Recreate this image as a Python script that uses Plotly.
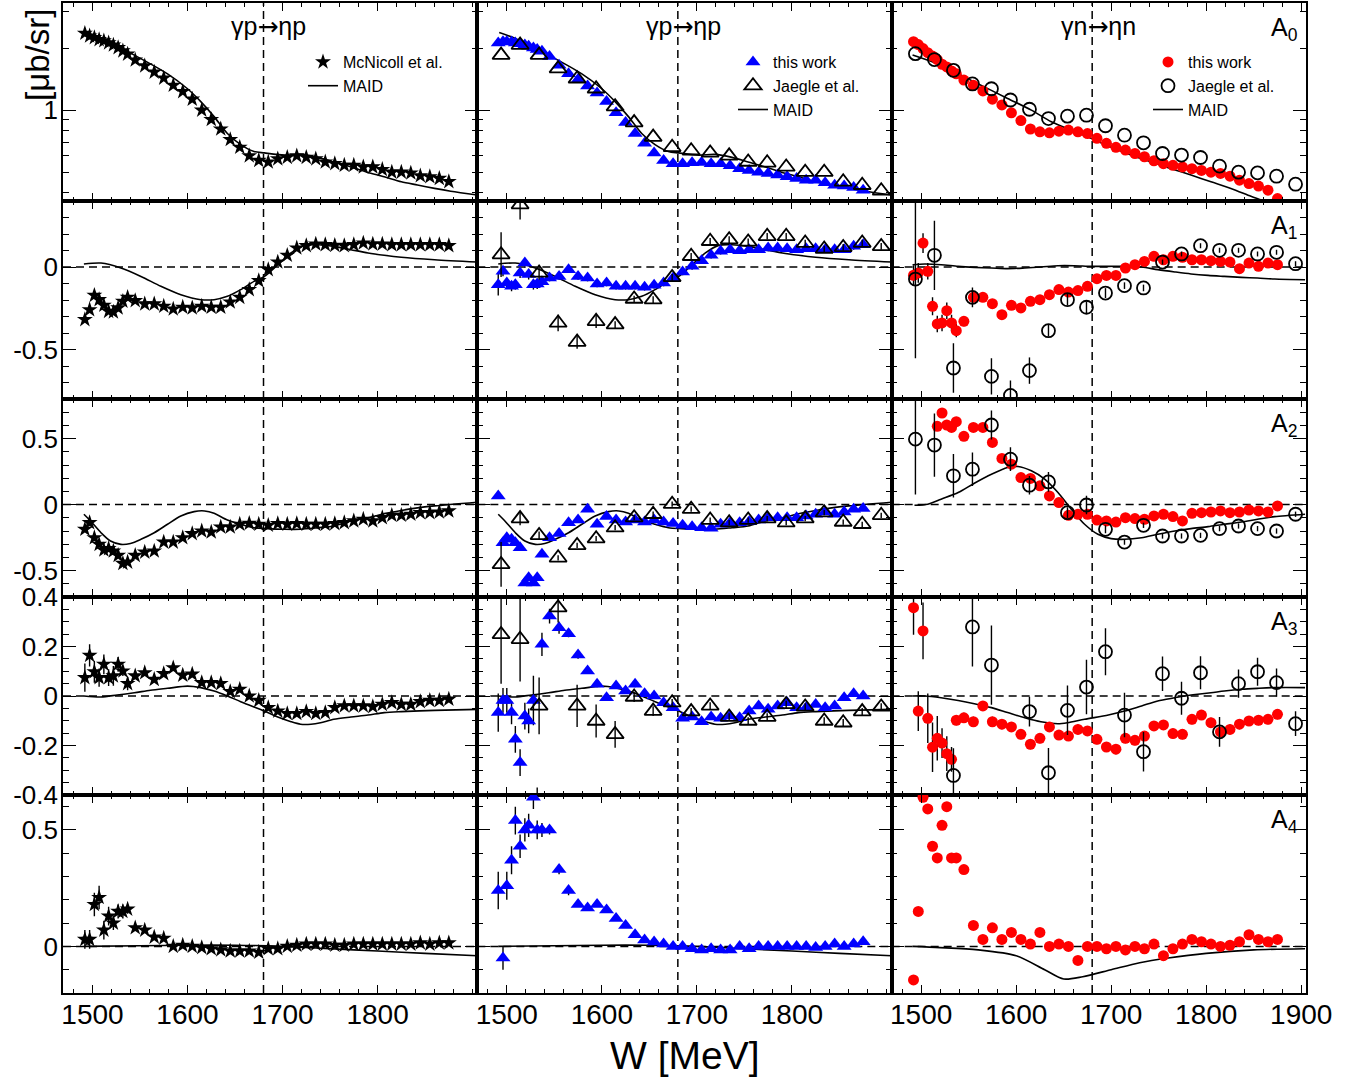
import plotly.graph_objects as go
from plotly.subplots import make_subplots

# ---------------- data ----------------
W_MCN = [1492, 1497, 1502, 1507, 1512, 1517, 1522, 1527, 1532, 1537,
         1545, 1555, 1565, 1575, 1585, 1595, 1605, 1615, 1625, 1635,
         1645, 1655, 1665, 1675, 1685, 1695, 1705, 1715, 1725, 1735,
         1745, 1755, 1765, 1775, 1785, 1795, 1805, 1815, 1825, 1835,
         1845, 1855, 1865, 1875]
W_P = [1491, 1496, 1500, 1505, 1509, 1514, 1519, 1523, 1528, 1532, 1537,
       1545, 1555, 1565, 1575, 1585, 1595, 1605, 1615, 1625, 1635,
       1645, 1655, 1665, 1675, 1685, 1695, 1705, 1715, 1725, 1735,
       1745, 1755, 1765, 1775, 1785, 1795, 1805, 1815, 1825, 1835,
       1845, 1855, 1865, 1875]
W_N = W_MCN
W_JAE = [1494, 1514, 1534, 1554, 1574, 1594, 1614, 1634, 1654, 1674, 1694,
         1714, 1734, 1754, 1774, 1794, 1814, 1834, 1854, 1874, 1894]

# A0
MCN_A0 = [2.36, 2.29, 2.25, 2.20, 2.17, 2.12, 2.07, 2.01, 1.94, 1.87,
          1.75, 1.64, 1.53, 1.43, 1.32, 1.23, 1.13, 1.00, 0.90, 0.81,
          0.72, 0.66, 0.60, 0.57, 0.56, 0.58, 0.59, 0.60, 0.59, 0.58,
          0.56, 0.55, 0.54, 0.54, 0.53, 0.53, 0.515, 0.50, 0.50, 0.495,
          0.48, 0.475, 0.466, 0.45]
P_A0 = [2.12, 2.15, 2.15, 2.14, 2.12, 2.10, 2.07, 2.04, 2.00, 1.97, 1.93,
        1.82, 1.65, 1.50, 1.41, 1.31, 1.21, 1.10, 0.97, 0.87, 0.77,
        0.69, 0.62, 0.57, 0.55, 0.55, 0.555, 0.557, 0.55, 0.55, 0.537,
        0.52, 0.51, 0.50, 0.493, 0.484, 0.475, 0.466, 0.457, 0.457, 0.444,
        0.432, 0.428, 0.421, 0.409]
N_A0 = [2.15, 2.08, 1.99, 1.90, 1.83, 1.76, 1.67, 1.62, 1.55, 1.50,
        1.40, 1.32, 1.24, 1.13, 1.06, 0.97, 0.89, 0.81, 0.785, 0.776,
        0.79, 0.80, 0.785, 0.77, 0.73, 0.69, 0.66, 0.64, 0.616, 0.594,
        0.568, 0.55, 0.54, 0.53, 0.52, 0.51, 0.50, 0.493, 0.478, 0.457,
        0.44, 0.428, 0.409, 0.372]
JP_A0 = [1.85, 2.07, 1.85, 1.59, 1.42, 1.27, 1.04, 0.87, 0.74, 0.66, 0.635,
         0.62, 0.60, 0.56, 0.555, 0.53, 0.50, 0.50, 0.449, 0.432, 0.406]
JN_A0 = [1.88, 1.76, 1.56, 1.34, 1.27, 1.12, 1.01, 0.91, 0.935, 0.945, 0.84,
         0.756, 0.694, 0.616, 0.605, 0.589, 0.535, 0.50, 0.496, 0.478, 0.437]
MP_A0_W = [1492, 1509, 1544, 1579, 1600, 1614, 1628, 1642, 1656, 1670, 1681,
           1702, 1719, 1737, 1754, 1772, 1789, 1807, 1825, 1842, 1860, 1877, 1905]
MP_A0 = [2.38, 2.23, 1.85, 1.50, 1.27, 1.10, 0.93, 0.77, 0.68, 0.63, 0.62,
         0.605, 0.61, 0.59, 0.56, 0.53, 0.50, 0.475, 0.449, 0.433, 0.417, 0.404, 0.387]
MN_A0_W = [1491, 1521, 1556, 1591, 1616, 1637, 1658, 1679, 1700, 1721, 1742,
           1763, 1784, 1805, 1826, 1847, 1858, 1872, 1900]
MN_A0 = [1.85, 1.65, 1.37, 1.14, 1.0, 0.878, 0.80, 0.73, 0.66, 0.605, 0.56,
         0.52, 0.484, 0.449, 0.417, 0.382, 0.366, 0.346, 0.315]

# A1
MCN_A1 = [-0.319, -0.259, -0.172, -0.198, -0.232, -0.269, -0.273, -0.248, -0.208, -0.184,
          -0.204, -0.224, -0.224, -0.238, -0.255, -0.244, -0.248, -0.238, -0.244, -0.244,
          -0.212, -0.184, -0.137, -0.083, -0.016, 0.030, 0.071, 0.115, 0.129, 0.139,
          0.135, 0.131, 0.129, 0.135, 0.145, 0.139, 0.139, 0.135, 0.135, 0.135,
          0.135, 0.135, 0.135, 0.129]
P_A1 = [-0.107, -0.026, -0.097, -0.117, -0.107, -0.036, 0.024, -0.046, -0.107, -0.103, -0.09,
        -0.067, -0.057, -0.016, -0.057, -0.067, -0.103, -0.097, -0.117, -0.117, -0.117,
        -0.123, -0.111, -0.097, -0.067, -0.030, 0.004, 0.038, 0.071, 0.095, 0.105,
        0.099, 0.105, 0.105, 0.115, 0.115, 0.111, 0.105, 0.111, 0.111, 0.105,
        0.105, 0.105, 0.125, 0.135]
P_A1_E = [0.065, 0.03, 0.03, 0.03, 0.03, 0.03, 0.03, 0.03, 0.03, 0.03, 0.03,
          0.02, 0.02, 0.02, 0.02, 0.02, 0.02, 0.02, 0.02, 0.02, 0.02,
          0.02, 0.02, 0.02, 0.02, 0.02, 0.02, 0.02, 0.02, 0.02, 0.02,
          0.02, 0.02, 0.02, 0.02, 0.02, 0.02, 0.02, 0.02, 0.02, 0.02,
          0.02, 0.02, 0.02, 0.02]
N_A1 = [-0.05, -0.036, 0.145, -0.026, -0.238, -0.345, -0.339, -0.265, -0.339, -0.386,
        -0.329, -0.184, -0.184, -0.222, -0.289, -0.232, -0.248, -0.208, -0.198, -0.168,
        -0.137, -0.152, -0.143, -0.117, -0.071, -0.051, -0.051, -0.006, 0.014, 0.034,
        0.065, 0.044, 0.065, 0.059, 0.044, 0.044, 0.038, 0.034, 0.030, -0.010,
        0.024, 0.004, 0.024, 0.014]
N_A1_E = [0.06, 0.06, 0.06, 0.05, 0.055, 0.05, 0.05, 0.05, 0.05, 0.04,
          0.03, 0.03, 0.02, 0.02, 0.02, 0.02, 0.02, 0.02, 0.02, 0.02,
          0.02, 0.02, 0.02, 0.02, 0.02, 0.02, 0.02, 0.02, 0.02, 0.02,
          0.02, 0.02, 0.02, 0.02, 0.02, 0.02, 0.02, 0.02, 0.02, 0.02,
          0.02, 0.02, 0.02, 0.02]
JP_A1 = [0.075, 0.378, -0.036, -0.339, -0.455, -0.329, -0.349, -0.194, -0.198, -0.063, 0.065,
         0.156, 0.166, 0.152, 0.186, 0.186, 0.145, 0.109, 0.119, 0.145, 0.125]
JP_A1_E = [0.136, 0.09, 0.04, 0.05, 0.04, 0.04, 0.02, 0.02, 0.02, 0.02, 0.02,
           0.02, 0.02, 0.02, 0.02, 0.02, 0.02, 0.02, 0.02, 0.02, 0.02]
JN_A1 = [-0.073, 0.071, -0.612, -0.184, -0.663, -0.778, -0.628, -0.386, -0.198, -0.244, -0.158,
         -0.113, -0.127, 0.030, 0.079, 0.129, 0.101, 0.101, 0.079, 0.089, 0.020]
JN_A1_E = [0.48, 0.21, 0.15, 0.06, 0.11, 0.09, 0.08, 0.035, 0.035, 0.035, 0.03,
           0.02, 0.02, 0.015, 0.015, 0.015, 0.015, 0.015, 0.015, 0.015, 0.015]
MP_A1_W = [1491, 1509, 1530, 1551, 1572, 1593, 1614, 1628, 1642, 1656, 1670, 1681,
           1695, 1709, 1723, 1737, 1754, 1772, 1790, 1807, 1825, 1860, 1905]
MP_A1 = [0.018, 0.024, -0.006, -0.057, -0.117, -0.168, -0.198, -0.198, -0.178, -0.137, -0.087, -0.057,
         0.014, 0.085, 0.131, 0.135, 0.125, 0.105, 0.085, 0.071, 0.059, 0.044, 0.030]
MN_A1_W = [1491, 1504, 1521, 1539, 1556, 1574, 1591, 1609, 1626, 1644, 1661, 1679,
           1697, 1714, 1732, 1749, 1767, 1784, 1802, 1819, 1837, 1854, 1872, 1904]
MN_A1 = [0.014, 0.018, 0.014, 0.004, -0.002, -0.006, -0.010, -0.006, 0.0, 0.008, 0.008, 0.004,
         0.004, 0.004, 0.0, -0.016, -0.030, -0.042, -0.051, -0.057, -0.063, -0.067, -0.073, -0.077]

# A2
MCN_A2 = [-0.187, -0.137, -0.251, -0.301, -0.344, -0.334, -0.352, -0.385, -0.446, -0.436,
          -0.385, -0.360, -0.352, -0.284, -0.284, -0.251, -0.220, -0.200, -0.208, -0.170,
          -0.170, -0.149, -0.142, -0.149, -0.157, -0.144, -0.149, -0.144, -0.149, -0.149,
          -0.149, -0.144, -0.137, -0.124, -0.111, -0.124, -0.099, -0.081, -0.081, -0.073,
          -0.061, -0.061, -0.056, -0.048]
P_A2 = [0.066, -0.289, -0.251, -0.263, -0.289, -0.327, -0.593, -0.555, -0.593, -0.555, -0.377,
        -0.251, -0.218, -0.137, -0.117, -0.035, -0.149, -0.091, -0.117, -0.132, -0.117,
        -0.132, -0.117, -0.132, -0.144, -0.157, -0.167, -0.175, -0.180, -0.149, -0.137,
        -0.137, -0.129, -0.117, -0.099, -0.099, -0.099, -0.099, -0.086, -0.073, -0.056,
        -0.073, -0.056, -0.035, -0.030]
N_A2 = [None, None, None, None, None, 0.593, 0.694, 0.603, 0.585, 0.628,
        0.517, 0.585, 0.585, 0.471, 0.350, 0.306, 0.205, 0.198, 0.142, 0.066,
        0.015, -0.081, -0.073, -0.073, -0.117, -0.124, -0.132, -0.099, -0.106, -0.111,
        -0.086, -0.073, -0.091, -0.124, -0.066, -0.061, -0.056, -0.048, -0.061, -0.056,
        -0.041, -0.048, -0.056, -0.010]
JP_A2 = [-0.453, -0.106, -0.233, -0.403, -0.309, -0.258, -0.175, -0.099, -0.073, 0.003, -0.035,
         -0.117, -0.137, -0.117, -0.106, -0.137, -0.106, -0.061, -0.132, -0.149, -0.081]
JP_A2_E = [0.17, 0.05, 0.03, 0.02, 0.02, 0.02, 0.02, 0.02, 0.02, 0.02, 0.02,
           0.02, 0.02, 0.02, 0.02, 0.02, 0.02, 0.02, 0.02, 0.02, 0.02]
JN_A2 = [0.496, 0.451, 0.218, 0.268, 0.603, 0.344, 0.147, 0.172, -0.061, -0.003, -0.187,
         -0.284, -0.157, -0.238, -0.238, -0.233, -0.182, -0.162, -0.182, -0.200, -0.073]
JN_A2_E = [0.42, 0.24, 0.165, 0.127, 0.11, 0.09, 0.07, 0.075, 0.04, 0.07, 0.03,
           0.02, 0.02, 0.02, 0.02, 0.02, 0.02, 0.02, 0.02, 0.02, 0.02]
MP_A2_W = [1491, 1498, 1509, 1519, 1530, 1540, 1551, 1565, 1579, 1593, 1607, 1618, 1628,
           1642, 1656, 1670, 1684, 1702, 1719, 1737, 1754, 1772, 1790, 1807, 1825, 1842,
           1860, 1905]
MP_A2 = [-0.073, -0.124, -0.213, -0.276, -0.301, -0.294, -0.263, -0.213, -0.149, -0.086, -0.053,
         -0.048, -0.066, -0.117, -0.149, -0.175, -0.182, -0.187, -0.187, -0.175, -0.162, -0.124,
         -0.100, -0.070, -0.045, -0.025, -0.010, 0.018]
MN_A2_W = [1493, 1507, 1521, 1539, 1556, 1574, 1591, 1602, 1616, 1630, 1644, 1658, 1672,
           1686, 1700, 1714, 1732, 1749, 1767, 1784, 1802, 1819, 1837, 1854, 1872, 1904]
MN_A2 = [-0.005, 0.003, 0.041, 0.091, 0.162, 0.230, 0.281, 0.289, 0.256, 0.193, 0.091, -0.035,
         -0.149, -0.225, -0.258, -0.263, -0.251, -0.225, -0.200, -0.182, -0.167, -0.149, -0.132,
         -0.111, -0.091, -0.073]

# A3
MCN_A3 = [0.074, 0.164, 0.098, 0.074, 0.128, 0.074, 0.081, 0.128, 0.101, 0.050,
          0.081, 0.094, 0.067, 0.090, 0.114, 0.084, 0.088, 0.054, 0.054, 0.050,
          0.018, 0.027, 0.000, -0.018, -0.047, -0.061, -0.071, -0.071, -0.063, -0.071,
          -0.067, -0.047, -0.040, -0.040, -0.040, -0.043, -0.034, -0.027, -0.034, -0.034,
          -0.023, -0.018, -0.018, -0.013]
MCN_A3_E = [0.057, 0.045, 0.044, 0.037, 0.04, 0.034, 0.04, 0.03, 0.02, 0.027,
            0.01, 0.01, 0.01, 0.01, 0.01, 0.01, 0.01, 0.01, 0.01, 0.01,
            0.01, 0.01, 0.01, 0.01, 0.01, 0.01, 0.01, 0.01, 0.01, 0.01,
            0.01, 0.01, 0.01, 0.01, 0.01, 0.01, 0.01, 0.01, 0.01, 0.01,
            0.01, 0.01, 0.01, 0.01]
P_A3 = [-0.067, -0.018, -0.018, -0.067, -0.175, -0.269, -0.081, -0.101, -0.018, -0.42, 0.209,
        0.323, 0.276, 0.252, 0.166, 0.101, 0.047, -0.007, 0.040, 0.020, 0.047,
        0.009, 0.000, -0.027, -0.047, -0.090, -0.085, -0.104, -0.085, -0.090, -0.081,
        -0.088, -0.061, -0.040, -0.054, -0.040, -0.027, -0.047, -0.047, -0.034, -0.047,
        -0.040, -0.007, 0.009, 0.000]
P_A3_E = [0.077, 0.05, 0.05, 0.047, 0.054, 0.054, 0.054, 0.05, 0.1, 0.05, 0.047,
          0.03, 0.024, 0.015, 0.015, 0.012, 0.012, 0.012, 0.012, 0.012, 0.012,
          0.01, 0.01, 0.01, 0.01, 0.01, 0.01, 0.01, 0.01, 0.01, 0.01,
          0.01, 0.01, 0.01, 0.01, 0.01, 0.01, 0.01, 0.01, 0.01, 0.01,
          0.01, 0.01, 0.01, 0.01]
N_A3 = [0.357, -0.061, 0.263, -0.090, -0.207, -0.171, -0.190, -0.233, -0.256, -0.098,
        -0.088, -0.104, -0.040, -0.104, -0.114, -0.125, -0.155, -0.195, -0.171, -0.125,
        -0.158, -0.162, -0.135, -0.141, -0.175, -0.206, -0.215, -0.171, -0.179, -0.162,
        -0.121, -0.117, -0.152, -0.155, -0.094, -0.077, -0.108, -0.145, -0.135, -0.114,
        -0.101, -0.098, -0.094, -0.074]
N_A3_E = [0.11, 0.08, 0.115, 0.1, 0.1, 0.09, 0.06, 0.07, 0.05, 0.02,
          0.02, 0.02, 0.02, 0.02, 0.02, 0.02, 0.02, 0.02, 0.02, 0.02,
          0.02, 0.02, 0.02, 0.02, 0.02, 0.02, 0.02, 0.02, 0.02, 0.02,
          0.02, 0.02, 0.02, 0.02, 0.02, 0.02, 0.02, 0.02, 0.02, 0.02,
          0.02, 0.02, 0.02, 0.02]
JP_A3 = [0.249, 0.229, -0.040, 0.357, -0.040, -0.101, -0.155, -0.004, -0.061, -0.027, -0.063,
         -0.040, -0.085, -0.101, -0.085, -0.034, -0.044, -0.101, -0.108, -0.063, -0.044]
JP_A3_E = [0.2, 0.17, 0.115, 0.06, 0.085, 0.067, 0.054, 0.02, 0.02, 0.015, 0.015,
           0.015, 0.015, 0.015, 0.015, 0.015, 0.015, 0.015, 0.015, 0.015, 0.015]
JN_A3 = [None, None, -0.321, 0.279, 0.125, None, -0.063, -0.310, -0.058, 0.036, 0.179,
         -0.077, -0.225, 0.090, -0.009, 0.094, -0.145, 0.050, 0.098, 0.054, -0.112]
JN_A3_E = [0, 0, 0.11, 0.16, 0.16, 0, 0.06, 0.1, 0.1, 0.11, 0.095,
           0.09, 0.08, 0.07, 0.067, 0.067, 0.06, 0.057, 0.057, 0.057, 0.05]
MP_A3_W = [1491, 1509, 1526, 1544, 1561, 1579, 1600, 1614, 1628, 1642, 1656, 1670, 1681,
           1695, 1709, 1719, 1730, 1740, 1754, 1772, 1790, 1807, 1825, 1860, 1905]
MP_A3 = [0.0, -0.004, 0.004, 0.013, 0.023, 0.031, 0.040, 0.034, 0.020, 0.0, -0.023, -0.044,
         -0.061, -0.085, -0.104, -0.114, -0.114, -0.108, -0.094, -0.085, -0.077, -0.067,
         -0.063, -0.058, -0.054]
MN_A3_W = [1491, 1504, 1521, 1539, 1556, 1574, 1591, 1609, 1626, 1644, 1654, 1672, 1697,
           1714, 1732, 1749, 1767, 1777, 1791, 1805, 1819, 1837, 1854, 1872, 1904]
MN_A3 = [0.0, 0.0, -0.007, -0.018, -0.031, -0.047, -0.067, -0.088, -0.104, -0.112, -0.108,
         -0.094, -0.077, -0.061, -0.040, -0.020, -0.007, 0.0, 0.007, 0.013, 0.020, 0.027,
         0.031, 0.034, 0.034]

# A4
MCN_A4 = [0.03, 0.03, 0.18, 0.21, 0.07, 0.13, 0.10, 0.15, 0.15, 0.16,
          0.08, 0.07, 0.04, 0.035, 0.0, 0.005, 0.0, -0.005, -0.01, -0.015,
          -0.02, -0.02, -0.02, -0.025, -0.01, -0.01, 0.0, 0.005, 0.01, 0.01,
          0.01, 0.005, 0.005, 0.01, 0.01, 0.01, 0.01, 0.01, 0.01, 0.01,
          0.015, 0.01, 0.015, 0.015]
MCN_A4_E = [0.04, 0.04, 0.05, 0.05, 0.04, 0.04, 0.03, 0.03, 0.03, 0.02,
            0.01, 0.01, 0.01, 0.01, 0.01, 0.01, 0.01, 0.01, 0.01, 0.01,
            0.01, 0.01, 0.01, 0.01, 0.01, 0.01, 0.01, 0.01, 0.01, 0.01,
            0.01, 0.01, 0.01, 0.01, 0.01, 0.01, 0.01, 0.01, 0.01, 0.01,
            0.01, 0.01, 0.01, 0.01]
P_A4 = [0.24, -0.05, 0.26, 0.37, 0.54, 0.43, 0.50, 0.52, 0.64, 0.50, 0.50,
        0.50, 0.33, 0.24, 0.18, 0.165, 0.18, 0.156, 0.12, 0.09, 0.05,
        0.027, 0.019, 0.01, 0.0, 0.0, -0.01, -0.015, -0.01, -0.015, -0.015,
        0.0, -0.01, 0.0, 0.0, 0.0, 0.0, 0.0, 0.0, -0.005, 0.0,
        0.01, 0.0, 0.01, 0.02]
P_A4_E = [0.08, 0.05, 0.06, 0.06, 0.06, 0.05, 0.05, 0.05, 0.05, 0.04, 0.03,
          0.02, 0.02, 0.02, 0.01, 0.01, 0.01, 0.01, 0.01, 0.01, 0.01,
          0.01, 0.01, 0.01, 0.01, 0.01, 0.01, 0.01, 0.01, 0.01, 0.01,
          0.01, 0.01, 0.01, 0.01, 0.01, 0.01, 0.01, 0.01, 0.01, 0.01,
          0.01, 0.01, 0.01, 0.01]
N_A4 = [-0.144, 0.15, 0.64, 0.59, 0.43, 0.38, 0.52, 0.60, 0.38, 0.38,
        0.33, 0.09, 0.03, 0.08, 0.03, 0.06, 0.03, 0.01, 0.06, 0.0,
        0.01, 0.0, -0.06, 0.0, 0.0, -0.01, 0.0, -0.015, 0.0, -0.01,
        0.01, -0.04, -0.01, 0.01, 0.03, 0.02, 0.01, 0.0, 0.005, 0.02,
        0.05, 0.03, 0.02, 0.03]
MP_A4_W = [1491, 1550, 1600, 1650, 1700, 1750, 1800, 1850, 1905]
MP_A4 = [0.0, 0.003, 0.005, 0.005, 0.0, -0.01, -0.02, -0.03, -0.04]
MN_A4_W = [1491, 1520, 1560, 1600, 1630, 1650, 1670, 1700, 1730, 1760, 1800, 1850, 1904]
MN_A4 = [0.0, -0.005, -0.015, -0.04, -0.10, -0.14, -0.13, -0.10, -0.07, -0.05, -0.03, -0.015, -0.01]

# ---------------- figure ----------------
FONT = "Liberation Sans, Arial, Helvetica, sans-serif"
BLUE = "#0000ff"
RED = "#ff0000"

fig = make_subplots(rows=5, cols=3, horizontal_spacing=0, vertical_spacing=0)

MCN = [(MCN_A0, None), (MCN_A1, None), (MCN_A2, None), (MCN_A3, MCN_A3_E), (MCN_A4, MCN_A4_E)]
PW = [(P_A0, None), (P_A1, P_A1_E), (P_A2, None), (P_A3, P_A3_E), (P_A4, P_A4_E)]
NW = [(N_A0, None), (N_A1, N_A1_E), (N_A2, None), (N_A3, N_A3_E), (N_A4, None)]
JP = [(JP_A0, None), (JP_A1, JP_A1_E), (JP_A2, JP_A2_E), (JP_A3, JP_A3_E), None]
JN = [(JN_A0, None), (JN_A1, JN_A1_E), (JN_A2, JN_A2_E), (JN_A3, JN_A3_E), None]
MP = [(MP_A0_W, MP_A0), (MP_A1_W, MP_A1), (MP_A2_W, MP_A2), (MP_A3_W, MP_A3), (MP_A4_W, MP_A4)]
MN = [(MN_A0_W, MN_A0), (MN_A1_W, MN_A1), (MN_A2_W, MN_A2), (MN_A3_W, MN_A3), (MN_A4_W, MN_A4)]


def err(e):
    if e is None:
        return dict(visible=False)
    return dict(type="data", array=e, visible=True, thickness=1.4, width=0, color="black")


def maid(r, c, wv, leg):
    fig.add_trace(go.Scatter(
        x=wv[0], y=wv[1], mode="lines", name="MAID",
        line=dict(color="black", width=1.6, shape="spline", smoothing=0.8),
        showlegend=(r == 1), legend=leg, legendrank=3, hoverinfo="skip"), row=r, col=c)


for i in range(5):
    r = i + 1
    maid(r, 1, MP[i], "legend")
    fig.add_trace(go.Scatter(
        x=W_MCN, y=MCN[i][0], mode="markers", name="McNicoll et al.",
        marker=dict(symbol="star", size=12, color="black", line=dict(width=0)),
        error_y=err(MCN[i][1]), showlegend=(r == 1), legend="legend", legendrank=1),
        row=r, col=1)
    maid(r, 2, MP[i], "legend2")
    fig.add_trace(go.Scatter(
        x=W_P, y=PW[i][0], mode="markers", name="this work",
        marker=dict(symbol="triangle-up", size=13, color=BLUE, line=dict(width=0)),
        error_y=err(PW[i][1]), showlegend=(r == 1), legend="legend2", legendrank=1),
        row=r, col=2)
    if JP[i] is not None:
        fig.add_trace(go.Scatter(
            x=W_JAE, y=JP[i][0], mode="markers", name="Jaegle et al.",
            marker=dict(symbol="triangle-up-open", size=15, color="black", line=dict(width=1.8)),
            error_y=err(JP[i][1]), showlegend=(r == 1), legend="legend2", legendrank=2),
            row=r, col=2)
    maid(r, 3, MN[i], "legend3")
    fig.add_trace(go.Scatter(
        x=W_N, y=NW[i][0], mode="markers", name="this work",
        marker=dict(symbol="circle", size=11, color=RED, line=dict(width=0)),
        error_y=err(NW[i][1]), showlegend=(r == 1), legend="legend3", legendrank=1),
        row=r, col=3)
    if JN[i] is not None:
        fig.add_trace(go.Scatter(
            x=W_JAE, y=JN[i][0], mode="markers", name="Jaegle et al.",
            marker=dict(symbol="circle-open", size=13, color="black", line=dict(width=1.8)),
            error_y=err(JN[i][1]), showlegend=(r == 1), legend="legend3", legendrank=2),
            row=r, col=3)

# ---------------- axes ----------------
YCFG = [
    dict(type="log", range=[-0.441, 0.520], tickvals=[1], ticktext=["1"],
         minor=dict(tickmode="array", tickvals=[0.4, 0.5, 0.6, 0.7, 0.8, 0.9, 2, 3])),
    dict(range=[-0.8, 0.4], tickvals=[-0.5, 0], ticktext=["-0.5", "0"],
         minor=dict(dtick=0.1, tick0=0)),
    dict(range=[-0.7, 0.8], tickvals=[-0.5, 0, 0.5], ticktext=["-0.5", "0", "0.5"],
         minor=dict(dtick=0.1, tick0=0)),
    dict(range=[-0.4, 0.4], tickvals=[-0.4, -0.2, 0, 0.2, 0.4],
         ticktext=["-0.4", "-0.2", "0", "0.2", "0.4"], minor=dict(dtick=0.05, tick0=0)),
    dict(range=[-0.2, 0.65], tickvals=[0, 0.5], ticktext=["0", "0.5"],
         minor=dict(dtick=0.1, tick0=0)),
]
for r in range(1, 6):
    for c in range(1, 4):
        xt = [1500, 1600, 1700, 1800, 1900] if c == 3 else [1500, 1600, 1700, 1800]
        fig.update_xaxes(
            range=[1469, 1905], tickmode="array", tickvals=xt, ticktext=[str(v) for v in xt],
            showticklabels=(r == 5), ticks="inside", ticklen=8, tickwidth=1.4,
            tickcolor="black", showline=True, linecolor="black", linewidth=1.6,
            mirror="allticks", showgrid=False, zeroline=False, automargin=False,
            ticklabelstandoff=-4,
            tickfont=dict(family=FONT, size=28, color="black"),
            minor=dict(ticks="inside", dtick=20, tick0=1500, ticklen=4,
                       tickwidth=1.2, tickcolor="black", showgrid=False),
            row=r, col=c)
        cfg = dict(YCFG[r - 1])
        minor = dict(cfg.pop("minor"))
        minor.update(ticks="inside", ticklen=6, tickwidth=1.2, tickcolor="black", showgrid=False)
        fig.update_yaxes(
            **cfg, tickmode="array", showticklabels=(c == 1), ticks="inside",
            ticklen=13, tickwidth=1.4, tickcolor="black", showline=True,
            linecolor="black", linewidth=1.6, mirror="allticks", showgrid=False,
            zeroline=False, automargin=False, ticklabelstandoff=-2,
            tickfont=dict(family=FONT, size=26, color="black"),
            minor=minor, row=r, col=c)

# dashed reference lines
shapes = []
for r in range(1, 6):
    for c in range(1, 4):
        n = (r - 1) * 3 + c
        sx = "" if n == 1 else str(n)
        shapes.append(dict(type="line", xref="x" + sx, yref="y" + sx + " domain",
                           x0=1680, x1=1680, y0=0, y1=1, layer="below",
                           line=dict(color="black", width=1.5, dash="8px,5px")))
        if r > 1:
            shapes.append(dict(type="line", xref="x" + sx + " domain", yref="y" + sx,
                               x0=0, x1=1, y0=0, y1=0, layer="below",
                               line=dict(color="black", width=1.5, dash="8px,5px")))


def py(p):
    return 1 - (p - 3) / 990


def px(p):
    return (p - 63) / 1243


ann = []
ARROW = '<span style="font-family:DejaVu Sans">→</span>'
for xc, txt in [(268, "γp" + ARROW + "ηp"), (683, "γp" + ARROW + "ηp"), (1098, "γn" + ARROW + "ηn")]:
    ann.append(dict(x=px(xc), y=py(26), xref="paper", yref="paper", text=txt, showarrow=False,
                    xanchor="center", yanchor="middle",
                    font=dict(family=FONT, size=25, color="black")))
row_top = [3, 201, 399, 597, 795]
for i, yt in enumerate(row_top):
    ann.append(dict(x=px(1269), y=py(yt + 26), xref="paper", yref="paper",
                    text="A<sub>%d</sub>" % i, showarrow=False, xanchor="left",
                    yanchor="middle", font=dict(family=FONT, size=25, color="black")))
ann.append(dict(x=px(37), y=py(55), xref="paper", yref="paper",
                text="[μb/sr]", textangle=-90, showarrow=False, xanchor="center",
                yanchor="middle", font=dict(family=FONT, size=33, color="black")))
ann.append(dict(x=px(685), y=py(1055), xref="paper", yref="paper",
                text="W [MeV]", showarrow=False, xanchor="center", yanchor="middle",
                font=dict(family=FONT, size=39, color="black")))

leg_common = dict(bgcolor="rgba(0,0,0,0)", borderwidth=0, xanchor="left", yanchor="top",
                  font=dict(family=FONT, size=16, color="black"), itemwidth=30,
                  traceorder="normal")
fig.update_layout(
    width=1372, height=1085,
    margin=dict(l=63, r=66, t=3, b=92, autoexpand=False),
    paper_bgcolor="white", plot_bgcolor="white",
    font=dict(family=FONT, color="black"),
    shapes=shapes, annotations=ann,
    legend=dict(x=px(303), y=py(45), **leg_common),
    legend2=dict(x=px(733), y=py(45), **leg_common),
    legend3=dict(x=px(1148), y=py(45), **leg_common),
)

fig.write_html("out.html")
